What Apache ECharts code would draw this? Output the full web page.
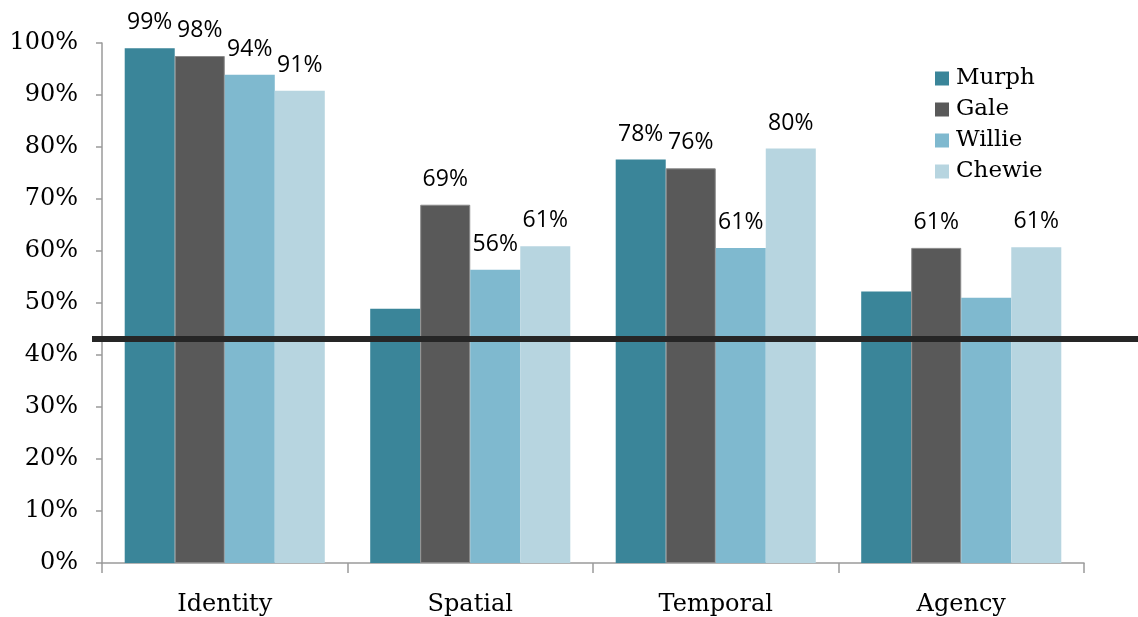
<!DOCTYPE html>
<html>
<head>
<meta charset="utf-8">
<script src="https://cdn.jsdelivr.net/npm/echarts@6/dist/echarts.min.js"></script>
<style>
  html, body { margin: 0; padding: 0; background: #fff; }
  #chart { width: 1138px; height: 617px; }
</style>
</head>
<body>
<div id="chart"></div>
<script>
// data (percent)
var categories = ['Identity', 'Spatial', 'Temporal', 'Agency'];
var seriesNames = ['Murph', 'Gale', 'Willie', 'Chewie'];
var murph = [99.0, 48.9, 77.6, 52.2];
var gale = [97.5, 68.9, 75.9, 60.6];
var willie = [93.9, 56.4, 60.6, 51.0];
var chewie = [90.8, 60.9, 79.7, 60.7];
var yTicks = [0, 10, 20, 30, 40, 50, 60, 70, 80, 90, 100];
var threshold = 43.1;
// bars that carry no value label: [series, category]
var unlabeled = [['Murph', 'Spatial'], ['Murph', 'Agency'], ['Willie', 'Agency']];

var colors = ['#3a8599', '#595959', '#7fb9cf', '#b7d5e0'];
var values = [murph, gale, willie, chewie];

var chart = echarts.init(document.getElementById('chart'));

function hasLabel(name, cat) {
    for (var i = 0; i < unlabeled.length; i++) {
        if (unlabeled[i][0] === name && unlabeled[i][1] === cat) return false;
    }
    return true;
}

var series = seriesNames.map(function (name, s) {
    return {
        name: name,
        type: 'bar',
        barGap: 0,
        barCategoryGap: '18.5%',
        itemStyle: {
            color: colors[s],
            borderColor: s === 1 ? '#8a8a8a' : colors[s],
            borderWidth: s === 1 ? 1 : 0
        },
        label: {
            show: true,
            position: 'top',
            distance: 14,
            fontFamily: 'Open Sans',
            fontSize: 23,
            color: '#000',
            formatter: function (p) {
                return hasLabel(name, p.name) ? Math.round(p.value) + '%' : '';
            }
        },
        data: values[s]
    };
});

var gridLeft = 102;

var option = {
    animation: false,
    grid: { left: gridLeft, right: 54, top: 43, bottom: 54 },
    legend: {
        orient: 'vertical',
        left: 930,
        top: 62,
        itemWidth: 14,
        itemHeight: 14,
        itemGap: 8,
        icon: 'rect',
        data: seriesNames,
        itemStyle: { borderWidth: 0 },
        textStyle: { fontFamily: 'DejaVu Serif', fontSize: 23, color: '#000', padding: [0, 0, 0, 2] }
    },
    xAxis: {
        type: 'category',
        data: categories,
        axisLine: { lineStyle: { color: '#9a9a9a', width: 1.5 } },
        axisTick: { show: true, length: 10, lineStyle: { color: '#9a9a9a', width: 1.5 } },
        axisLabel: { margin: 30, fontFamily: 'DejaVu Serif', fontSize: 24, color: '#000' }
    },
    yAxis: {
        type: 'value',
        min: yTicks[0],
        max: yTicks[yTicks.length - 1],
        interval: yTicks[1] - yTicks[0],
        splitLine: { show: false },
        axisLine: { show: true, lineStyle: { color: '#9a9a9a', width: 1.5 } },
        axisTick: { show: true, length: 6, lineStyle: { color: '#9a9a9a', width: 1.5 } },
        axisLabel: { margin: 24, fontFamily: 'DejaVu Serif', fontSize: 24, color: '#000', formatter: '{value}%' }
    },
    series: series
};

chart.setOption(option);

// threshold line runs past the plot area, so draw it from the axis scale
var yPix = chart.convertToPixel({ yAxisIndex: 0 }, threshold);
chart.setOption({
    graphic: [{
        type: 'line',
        z: 100,
        shape: { x1: gridLeft - 10, y1: yPix, x2: chart.getWidth(), y2: yPix },
        style: { stroke: '#262626', lineWidth: 6 }
    }]
});
</script>
</body>
</html>
